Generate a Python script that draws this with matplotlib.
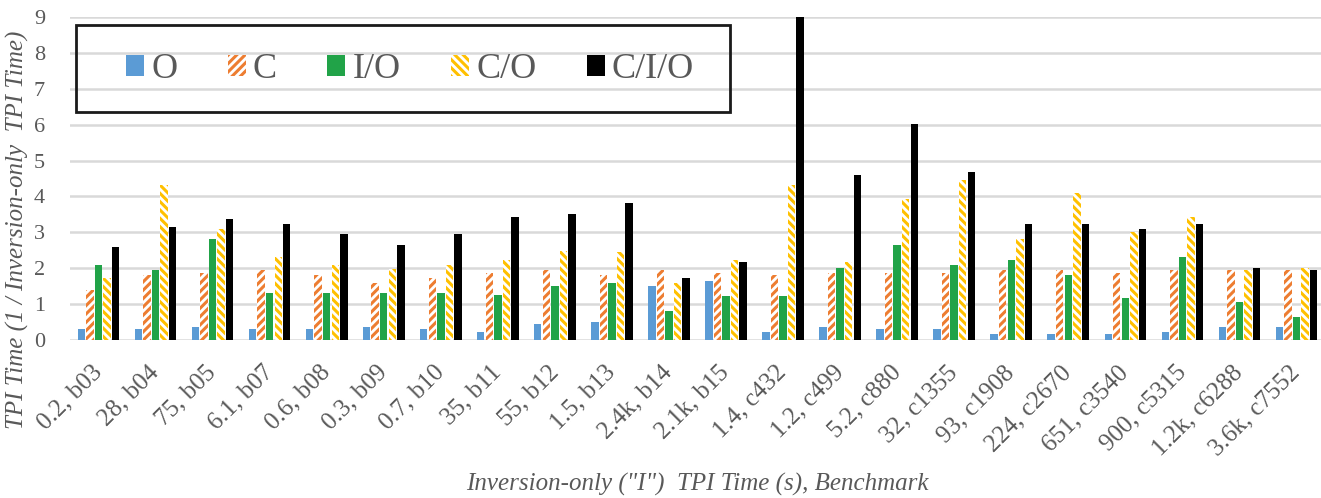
import numpy as np
import matplotlib.pyplot as plt
from matplotlib.patches import Rectangle

plt.rcParams['font.family'] = ['Liberation Serif', 'DejaVu Serif']
plt.rcParams['hatch.linewidth'] = 2.2

labels = ['0.2, b03', '28, b04', '75, b05', '6.1, b07', '0.6, b08', '0.3, b09',
          '0.7, b10', '35, b11', '55, b12', '1.5, b13', '2.4k, b14', '2.1k, b15',
          '1.4, c432', '1.2, c499', '5.2, c880', '32, c1355', '93, c1908',
          '224, c2670', '651, c3540', '900, c5315', '1.2k, c6288', '3.6k, c7552']

o_vals = [0.30, 0.30, 0.37, 0.30, 0.30, 0.37, 0.30, 0.23, 0.45, 0.51, 1.51,
          1.65, 0.23, 0.37, 0.30, 0.30, 0.16, 0.16, 0.16, 0.23, 0.37, 0.37]
c_vals = [1.39, 1.81, 1.88, 1.95, 1.81, 1.60, 1.72, 1.86, 1.95, 1.81, 1.95,
          1.88, 1.80, 1.88, 1.86, 1.86, 1.95, 1.95, 1.86, 1.95, 1.95, 1.95]
io_vals = [2.09, 1.95, 2.81, 1.30, 1.30, 1.30, 1.30, 1.24, 1.51, 1.58, 0.81,
           1.23, 1.23, 2.02, 2.65, 2.09, 2.23, 1.80, 1.16, 2.30, 1.07, 0.65]
co_vals = [1.72, 4.32, 3.09, 2.30, 2.09, 1.97, 2.09, 2.23, 2.49, 2.44, 1.58,
           2.23, 4.32, 2.16, 3.93, 4.46, 2.81, 4.09, 3.02, 3.44, 1.95, 2.02]
cio_vals = [2.60, 3.16, 3.38, 3.23, 2.95, 2.65, 2.95, 3.44, 3.51, 3.81, 1.72,
            2.16, 9.00, 4.60, 6.02, 4.67, 3.22, 3.22, 3.09, 3.22, 2.02, 1.95]

series = ['O', 'C', 'I/O', 'C/O', 'C/I/O']
text_gray = '#595959'

fig = plt.figure(figsize=(13.21, 4.98), dpi=100)
ax = fig.add_axes([70 / 1321, 1 - 340 / 498, 1255 / 1321, 323 / 498])

x = np.arange(len(labels))
w = 0.13
step = 0.15
styles = [
    dict(color='#5B9BD5'),
    dict(facecolor='white', edgecolor='#ED7D31', hatch='////', linewidth=0),
    dict(color='#21A348'),
    dict(facecolor='white', edgecolor='#FFC000', hatch='\\\\\\\\', linewidth=0),
    dict(color='black'),
]
data = [o_vals, c_vals, io_vals, co_vals, cio_vals]
for i, (name, vals, st) in enumerate(zip(series, data, styles)):
    ax.bar(x + (i - 2) * step, vals, w, label=name, **st)

ax.set_xlim(-0.5, len(labels) - 0.5)
ax.set_ylim(0, 9)
ax.set_yticks(range(10))
ax.set_xticks(x)
ax.set_xticklabels(labels, rotation=45, ha='right', va='center',
                   rotation_mode='anchor', fontsize=18, color=text_gray)
ax.tick_params(axis='y', labelsize=16, labelcolor=text_gray, length=0, pad=18)
ax.tick_params(axis='x', length=0, pad=21)
ax.grid(axis='y', color='#D9D9D9', linewidth=1.8)
ax.set_axisbelow(True)
for s in ax.spines.values():
    s.set_visible(False)

ax.set_ylabel('TPI Time (1 / Inversion-only  TPI Time)', fontsize=18,
              style='italic', color=text_gray)
ax.yaxis.set_label_coords(-0.033, 0.34)
ax.set_xlabel('Inversion-only ("I")  TPI Time (s), Benchmark', fontsize=18,
              style='italic', color=text_gray)
ax.xaxis.set_label_coords(0.5, -0.413)

# legend without its own frame; Excel-style box drawn separately
leg = ax.legend(ncol=5, loc='center left', bbox_to_anchor=(126 / 1321, 1 - 70 / 498),
                bbox_transform=fig.transFigure, fontsize=26, frameon=False,
                handlelength=0.5, handleheight=0.5, handletextpad=0.2,
                columnspacing=1.39, borderpad=0, borderaxespad=0,
                labelcolor=text_gray)
fig.patches.append(Rectangle((76 / 1321, 1 - 112 / 498), 654 / 1321, 87 / 498,
                             transform=fig.transFigure, fill=False,
                             edgecolor='#1a1a1a', linewidth=2))

fig.savefig('out.png', dpi=100)
